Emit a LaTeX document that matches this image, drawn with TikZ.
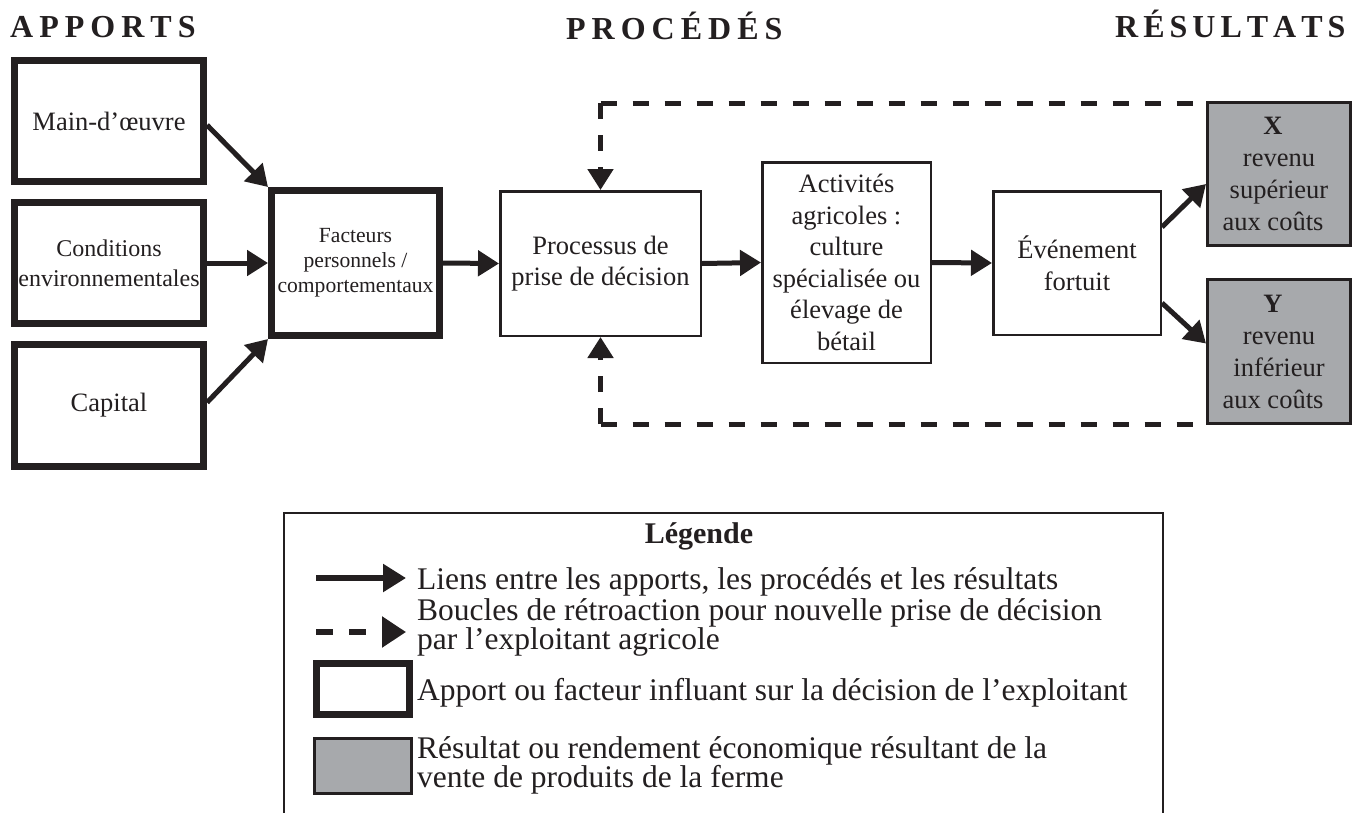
\documentclass[tikz,border=0pt]{standalone}
\usepackage{fontspec}
\setmainfont{Liberation Serif}
\usetikzlibrary{arrows.meta,calc}
\definecolor{ink}{HTML}{231F20}
\definecolor{gris}{HTML}{A7A9AC}
\newcommand\spc{\kern6pt}
\newcommand\spd{\kern5pt}
\newcommand\lft[1]{#1\hspace*{12pt}}
\begin{document}
\begin{tikzpicture}[x=1pt,y=-1pt,
  every node/.style={text=ink},
  thickbox/.style={draw=ink,line width=7pt,fill=white,inner sep=0pt,align=center,
    font=\fontsize{26.5}{31.5}\selectfont},
  thinbox/.style={draw=ink,line width=2.5pt,fill=white,inner sep=0pt,align=center,
    font=\fontsize{26.5}{31.5}\selectfont},
  resbox/.style={draw=ink,line width=3pt,fill=gris,inner sep=0pt,align=center,
    font=\fontsize{26.5}{32}\selectfont},
  header/.style={inner sep=0pt,anchor=base west,font=\fontsize{32}{36}\selectfont\bfseries},
  link/.style={draw=ink,line width=5pt,-{Triangle[length=21pt,width=25pt]}},
  fb/.style={draw=ink,line width=5pt,dash pattern=on 16pt off 16pt},
  fbarrow/.style={fb,-{Triangle[length=21pt,width=25pt]}},
  legtext/.style={inner sep=0pt,anchor=base west,
    font=\fontsize{31.5}{24.5}\selectfont},
]
\path[use as bounding box] (0,0) rectangle (1360,812);
\clip (0,0) rectangle (1360,812);
\fill[white] (0,0) rectangle (1360,812);

% headers
\node[header] (hA) at (10,37) {A\spc P\spc P\spc O\spc R\spc T\spc S};
\node[header] (hP) at (566,39) {P\spc R\spc O\spc C\spc É\spc D\spc É\spc S};
\node[header] (hR) at (1115,37) {R\spd É\spd S\spd U\spd L\spd T\spd A\spd T\spd S};

% input boxes
\node[thickbox,minimum width=189,minimum height=121] (Main) at (109,121) {Main-d’œuvre};
\node[thickbox,minimum width=189,minimum height=121,font=\fontsize{24}{30}\selectfont] (Cond) at (109,263) {Conditions\\environnementales};
\node[thickbox,minimum width=189,minimum height=122] (Cap) at (109,405.5) {Capital};
\node[thickbox,minimum width=168,minimum height=145,font=\fontsize{21.6}{25}\selectfont] (Fact) at (355.5,263) {Facteurs\\personnels /\\comportementaux};

% process boxes
\node[thinbox,minimum width=200.5,minimum height=144.5] (Proc) at (600.5,263.5) {Processus de\\prise de décision};
\node[thinbox,minimum width=168.5,minimum height=200.5] (Act) at (846.5,262.5) {Activités\\agricoles :\\culture\\spécialisée ou\\élevage de\\bétail};
\node[thinbox,minimum width=167.5,minimum height=143.5] (Even) at (1077,263) {Événement\\fortuit};

% result boxes
\node[resbox,minimum width=143,minimum height=143] (X) at (1279,174) {\lft{\textbf{X}}\\\lft{revenu}\\\lft{supérieur}\\\lft{aux coûts}};
\node[resbox,minimum width=143,minimum height=144] (Y) at (1279,351.5) {\lft{\textbf{Y}}\\\lft{revenu}\\\lft{inférieur}\\\lft{aux coûts}};

% links
\draw[link] ($(Main.east)+(0,4)$) -- (Fact.north west);
\draw[link] (Cond.east) -- (Fact.west);
\draw[link] ($(Cap.east)+(0,-3)$) -- (Fact.south west);
\draw[link] (Fact.east) -- (Proc.west);
\draw[link] (Proc.east) -- (Act.west);
\draw[link] (Act.east) -- (Even.west);
\draw[link] ($(Even.east)+(0,-36)$) -- ($(X.west)+(0,10)$);
\draw[link] ($(Even.east)+(0,40)$) -- ($(Y.west)+(0,-8)$);

% feedback loops
\coordinate (ft) at ($(Proc.north |- X.north west)+(0,2)$);
\coordinate (fte) at ($(X.north west)+(0,2)$);
\coordinate (fb) at ($(Proc.south |- Y.south west)+(0,-1)$);
\coordinate (fbe) at ($(Y.south west)+(0,-1)$);
\draw[fb] (ft) -- (fte);
\draw[fbarrow] (ft) -- (Proc.north);
\draw[fb] (fb) -- (fbe);
\draw[fbarrow] (fb) -- (Proc.south);

% legend
\node[draw=ink,line width=1.5pt,anchor=north west,minimum width=879,minimum height=360,inner sep=0pt] (leg) at (283,512) {};
\node[inner sep=0pt,anchor=base,font=\fontsize{30}{34}\selectfont\bfseries] (legT) at (699,543) {Légende};
\coordinate (l1a) at (316,578);
\coordinate (l1b) at (406,578);
\draw[draw=ink,line width=5.5pt,-{Triangle[length=23pt,width=27pt]}] (l1a) -- (l1b);
\coordinate (l2a) at (316,632);
\coordinate (l2b) at (406,632);
\draw[draw=ink,line width=5.5pt,dash pattern=on 17pt off 16pt,-{Triangle[length=24pt,width=30pt]}] (l2a) -- (l2b);
\node[draw=ink,line width=7pt,fill=white,minimum width=93,minimum height=51,inner sep=0pt] (lb1) at (363,689) {};
\node[draw=ink,line width=3pt,fill=gris,minimum width=97,minimum height=55,inner sep=0pt] (lb2) at (363,766) {};
\node[legtext] (t1) at (417,589) {Liens entre les apports, les procédés et les résultats};
\node[legtext] (t2a) at (417,620) {Boucles de rétroaction pour nouvelle prise de décision};
\node[legtext] (t2b) at (417,649) {par l’exploitant agricole};
\node[legtext] (t3) at (417,700) {Apport ou facteur influant sur la décision de l’exploitant};
\node[legtext] (t4a) at (417,758) {Résultat ou rendement économique résultant de la};
\node[legtext] (t4b) at (417,787) {vente de produits de la ferme};
\end{tikzpicture}
\end{document}
